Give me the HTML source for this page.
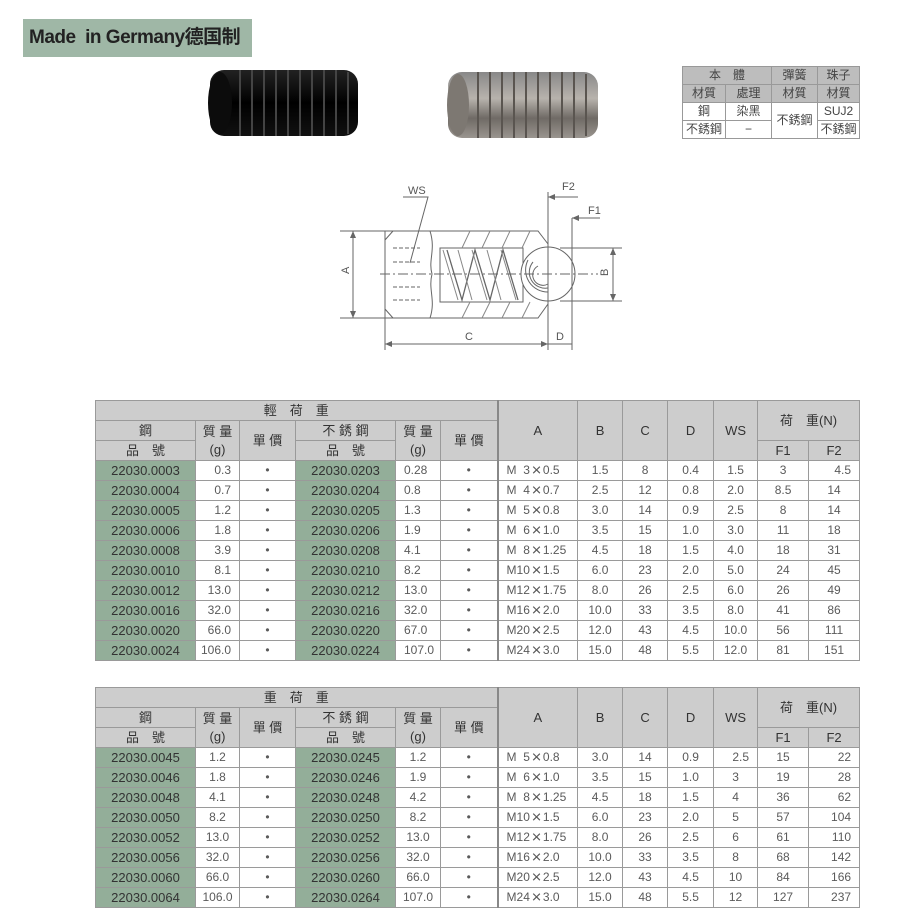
<!DOCTYPE html>
<html><head><meta charset="utf-8"><style>
body{margin:0;width:900px;height:916px;background:#fff;position:relative;overflow:hidden;font-family:"Liberation Sans Narrow","Liberation Sans","Noto Sans CJK TC",sans-serif;}
.title{position:absolute;left:23px;top:19px;width:229px;height:38px;background:#9fb7a6;font:bold 19px "Liberation Sans","Noto Sans CJK SC",sans-serif;color:#222;line-height:38px;padding-left:6px;box-sizing:border-box;letter-spacing:-0.5px}
table{border-collapse:collapse;position:absolute;table-layout:fixed;font-size:12px;color:#5a5a5a}
td{border:1px solid #9a9a9a;padding:0;text-align:center;height:19px;line-height:19px;white-space:nowrap;overflow:hidden}
.h td{background:#cdcdcd;color:#333;font-size:13px}
td.g{background:#93ae99;color:#333;font-size:13px}
td.l{text-align:left;padding-left:8px}
td.r{text-align:right;padding-right:8px}
td.sep{border-left:2px solid #888}
.x{display:inline-block;line-height:10px;transform:scale(1.4);margin:0 3px}
.mt{font-size:12px;color:#444}
.mt td{height:17px;line-height:17px;border:1px solid #999}
</style></head><body>
<div class="title">Made&nbsp; in Germany德国制</div>

<svg style="position:absolute;left:0;top:0" width="900" height="380">
 <defs>
  <linearGradient id="bk" x1="0" y1="0" x2="0" y2="1"><stop offset="0" stop-color="#222"/><stop offset="0.5" stop-color="#000"/><stop offset="1" stop-color="#111"/></linearGradient>
  <linearGradient id="sv" x1="0" y1="0" x2="0" y2="1"><stop offset="0" stop-color="#888"/><stop offset="0.4" stop-color="#b8b3ad"/><stop offset="0.7" stop-color="#6f6a65"/><stop offset="1" stop-color="#9a958f"/></linearGradient>
 </defs>
 <rect x="210" y="70" width="148" height="66" rx="14" fill="url(#bk)"/>
 <ellipse cx="220" cy="103" rx="12" ry="31" fill="#0c0c0c"/>
 <g stroke="#444" stroke-width="2">
  <line x1="240" y1="70" x2="240" y2="136"/><line x1="252" y1="70" x2="252" y2="136"/><line x1="264" y1="70" x2="264" y2="136"/><line x1="276" y1="70" x2="276" y2="136"/><line x1="288" y1="70" x2="288" y2="136"/><line x1="300" y1="70" x2="300" y2="136"/><line x1="312" y1="70" x2="312" y2="136"/><line x1="324" y1="70" x2="324" y2="136"/><line x1="336" y1="70" x2="336" y2="136"/><line x1="348" y1="72" x2="348" y2="134"/>
 </g>
 <rect x="448" y="72" width="150" height="66" rx="14" fill="url(#sv)"/>
 <ellipse cx="458" cy="105" rx="11" ry="31" fill="#7d7872"/>
 <g stroke="#5a5550" stroke-width="2">
  <line x1="478" y1="72" x2="478" y2="138"/><line x1="490" y1="72" x2="490" y2="138"/><line x1="502" y1="72" x2="502" y2="138"/><line x1="514" y1="72" x2="514" y2="138"/><line x1="526" y1="72" x2="526" y2="138"/><line x1="538" y1="72" x2="538" y2="138"/><line x1="550" y1="72" x2="550" y2="138"/><line x1="562" y1="72" x2="562" y2="138"/><line x1="574" y1="72" x2="574" y2="138"/><line x1="586" y1="74" x2="586" y2="136"/>
 </g>

 <g stroke="#666" fill="none" stroke-width="1">
  <path d="M393 231 L538 231 L548 244 M393 318 L538 318 L548 304 M393 231 L385 240 L385 309 L393 318"/>
  <line x1="385" y1="231" x2="385" y2="350"/>
  <rect x="440" y="248" width="83" height="54"/>
  <path d="M447 250 L462 300 L475 250 L490 300 L503 250 L518 300" stroke-width="1.3"/>
  <path d="M443 250 L458 300 M458 250 L472 300 M472 250 L487 300 M487 250 L501 300 M501 250 L516 300" stroke="#888"/>
  <circle cx="548" cy="274" r="27" fill="#fff"/>
  <path d="M538 266 a10 10 0 0 0 10 18 M533 262 a16 16 0 0 0 15 26 M528 260 a22 22 0 0 0 20 32"/>
  <line x1="380" y1="274" x2="598" y2="274" stroke-dasharray="10 3 2 3"/>
  <line x1="548" y1="192" x2="548" y2="350"/>
  <line x1="572" y1="218" x2="572" y2="350"/>
  <line x1="340" y1="231" x2="393" y2="231"/><line x1="340" y1="318" x2="393" y2="318"/>
  <line x1="353" y1="231" x2="353" y2="318"/>
  <line x1="560" y1="248" x2="622" y2="248"/><line x1="560" y1="301" x2="622" y2="301"/>
  <line x1="613" y1="248" x2="613" y2="301"/>
  <line x1="385" y1="344" x2="548" y2="344"/><line x1="548" y1="344" x2="572" y2="344"/>
  <line x1="548" y1="197" x2="578" y2="197"/><line x1="572" y1="218" x2="600" y2="218"/>
  <path d="M403 197 L428 197 L410 263"/>
  <path d="M393 248 L420 248 M393 262 L420 262 M393 287 L420 287 M393 300 L420 300" stroke-dasharray="4 2"/>
  <path d="M430 231 C436 250 428 260 432 274 C428 290 436 300 430 318" />
  <path d="M470 231 L462 248 M490 231 L482 248 M510 231 L502 248 M530 231 L522 248 M470 302 L462 318 M490 302 L482 318 M510 302 L502 318 M530 302 L522 318" stroke="#888"/>
 </g>
 <g fill="#666">
  <path d="M353 231 l-3 7 h6z M353 318 l-3 -7 h6z M613 248 l-3 7 h6z M613 301 l-3 -7 h6z M385 344 l7 -3 v6z M548 344 l-7 -3 v6z M548 197 l7 -3 v6z M572 218 l7 -3 v6z"/>
 </g>
 <g font-family="Liberation Sans Narrow,Liberation Sans,sans-serif" font-size="11" fill="#555">
  <text x="408" y="194">WS</text>
  <text x="562" y="190">F2</text>
  <text x="588" y="214">F1</text>
  <text x="465" y="340">C</text>
  <text x="556" y="340">D</text>
  <text x="345" y="278" transform="rotate(-90 345 274)">A</text>
  <text x="602" y="278" transform="rotate(-90 604 274)">B</text>
 </g>
</svg>

<table class="mt" style="left:682px;top:66px;width:177px">
<colgroup><col style="width:43px"><col style="width:46px"><col style="width:46px"><col style="width:42px"></colgroup>
<tr style="background:#bdbdbd"><td colspan="2">本　體</td><td>彈簧</td><td>珠子</td></tr>
<tr style="background:#bdbdbd"><td>材質</td><td>處理</td><td>材質</td><td>材質</td></tr>
<tr><td>鋼</td><td>染黑</td><td rowspan="2">不銹鋼</td><td>SUJ2</td></tr>
<tr><td>不銹鋼</td><td>−</td><td>不銹鋼</td></tr>
</table>

<table style="left:95px;top:400px;width:764px">
<colgroup><col style="width:100px"><col style="width:44px"><col style="width:56px"><col style="width:100px"><col style="width:45px"><col style="width:57px"><col style="width:80px"><col style="width:45px"><col style="width:45px"><col style="width:46px"><col style="width:44px"><col style="width:51px"><col style="width:51px"></colgroup>
<tr class="h"><td colspan="6">輕　荷　重</td><td rowspan="3" class="sep">A</td><td rowspan="3">B</td><td rowspan="3">C</td><td rowspan="3">D</td><td rowspan="3">WS</td><td colspan="2" rowspan="2">荷　重(N)</td></tr>
<tr class="h"><td>鋼</td><td rowspan="2" style="line-height:18px">質 量<br>(g)</td><td rowspan="2">單 價</td><td>不 銹 鋼</td><td rowspan="2" style="line-height:18px">質 量<br>(g)</td><td rowspan="2">單 價</td></tr>
<tr class="h"><td>品　號</td><td>品　號</td><td>F1</td><td>F2</td></tr>
<tr><td class="g">22030.0003</td><td class="r">0.3</td><td>•</td><td class="g">22030.0203</td><td class="l">0.28</td><td>•</td><td class="l sep">M&nbsp; 3<span class="x">×</span>0.5</td><td>1.5</td><td>8</td><td>0.4</td><td>1.5</td><td>3</td><td class="r">4.5</td></tr>
<tr><td class="g">22030.0004</td><td class="r">0.7</td><td>•</td><td class="g">22030.0204</td><td class="l">0.8</td><td>•</td><td class="l sep">M&nbsp; 4<span class="x">×</span>0.7</td><td>2.5</td><td>12</td><td>0.8</td><td>2.0</td><td>8.5</td><td>14</td></tr>
<tr><td class="g">22030.0005</td><td class="r">1.2</td><td>•</td><td class="g">22030.0205</td><td class="l">1.3</td><td>•</td><td class="l sep">M&nbsp; 5<span class="x">×</span>0.8</td><td>3.0</td><td>14</td><td>0.9</td><td>2.5</td><td>8</td><td>14</td></tr>
<tr><td class="g">22030.0006</td><td class="r">1.8</td><td>•</td><td class="g">22030.0206</td><td class="l">1.9</td><td>•</td><td class="l sep">M&nbsp; 6<span class="x">×</span>1.0</td><td>3.5</td><td>15</td><td>1.0</td><td>3.0</td><td>11</td><td>18</td></tr>
<tr><td class="g">22030.0008</td><td class="r">3.9</td><td>•</td><td class="g">22030.0208</td><td class="l">4.1</td><td>•</td><td class="l sep">M&nbsp; 8<span class="x">×</span>1.25</td><td>4.5</td><td>18</td><td>1.5</td><td>4.0</td><td>18</td><td>31</td></tr>
<tr><td class="g">22030.0010</td><td class="r">8.1</td><td>•</td><td class="g">22030.0210</td><td class="l">8.2</td><td>•</td><td class="l sep">M10<span class="x">×</span>1.5</td><td>6.0</td><td>23</td><td>2.0</td><td>5.0</td><td>24</td><td>45</td></tr>
<tr><td class="g">22030.0012</td><td class="r">13.0</td><td>•</td><td class="g">22030.0212</td><td class="l">13.0</td><td>•</td><td class="l sep">M12<span class="x">×</span>1.75</td><td>8.0</td><td>26</td><td>2.5</td><td>6.0</td><td>26</td><td>49</td></tr>
<tr><td class="g">22030.0016</td><td class="r">32.0</td><td>•</td><td class="g">22030.0216</td><td class="l">32.0</td><td>•</td><td class="l sep">M16<span class="x">×</span>2.0</td><td>10.0</td><td>33</td><td>3.5</td><td>8.0</td><td>41</td><td>86</td></tr>
<tr><td class="g">22030.0020</td><td class="r">66.0</td><td>•</td><td class="g">22030.0220</td><td class="l">67.0</td><td>•</td><td class="l sep">M20<span class="x">×</span>2.5</td><td>12.0</td><td>43</td><td>4.5</td><td>10.0</td><td>56</td><td>111</td></tr>
<tr><td class="g">22030.0024</td><td class="r">106.0</td><td>•</td><td class="g">22030.0224</td><td class="l">107.0</td><td>•</td><td class="l sep">M24<span class="x">×</span>3.0</td><td>15.0</td><td>48</td><td>5.5</td><td>12.0</td><td>81</td><td>151</td></tr>
</table>

<table style="left:95px;top:687px;width:764px">
<colgroup><col style="width:100px"><col style="width:44px"><col style="width:56px"><col style="width:100px"><col style="width:45px"><col style="width:57px"><col style="width:80px"><col style="width:45px"><col style="width:45px"><col style="width:46px"><col style="width:44px"><col style="width:51px"><col style="width:51px"></colgroup>
<tr class="h"><td colspan="6">重　荷　重</td><td rowspan="3" class="sep">A</td><td rowspan="3">B</td><td rowspan="3">C</td><td rowspan="3">D</td><td rowspan="3">WS</td><td colspan="2" rowspan="2">荷　重(N)</td></tr>
<tr class="h"><td>鋼</td><td rowspan="2" style="line-height:18px">質 量<br>(g)</td><td rowspan="2">單 價</td><td>不 銹 鋼</td><td rowspan="2" style="line-height:18px">質 量<br>(g)</td><td rowspan="2">單 價</td></tr>
<tr class="h"><td>品　號</td><td>品　號</td><td>F1</td><td>F2</td></tr>
<tr><td class="g">22030.0045</td><td>1.2</td><td>•</td><td class="g">22030.0245</td><td>1.2</td><td>•</td><td class="l sep">M&nbsp; 5<span class="x">×</span>0.8</td><td>3.0</td><td>14</td><td>0.9</td><td class="r">2.5</td><td>15</td><td class="r">22</td></tr>
<tr><td class="g">22030.0046</td><td>1.8</td><td>•</td><td class="g">22030.0246</td><td>1.9</td><td>•</td><td class="l sep">M&nbsp; 6<span class="x">×</span>1.0</td><td>3.5</td><td>15</td><td>1.0</td><td>3</td><td>19</td><td class="r">28</td></tr>
<tr><td class="g">22030.0048</td><td>4.1</td><td>•</td><td class="g">22030.0248</td><td>4.2</td><td>•</td><td class="l sep">M&nbsp; 8<span class="x">×</span>1.25</td><td>4.5</td><td>18</td><td>1.5</td><td>4</td><td>36</td><td class="r">62</td></tr>
<tr><td class="g">22030.0050</td><td>8.2</td><td>•</td><td class="g">22030.0250</td><td>8.2</td><td>•</td><td class="l sep">M10<span class="x">×</span>1.5</td><td>6.0</td><td>23</td><td>2.0</td><td>5</td><td>57</td><td class="r">104</td></tr>
<tr><td class="g">22030.0052</td><td>13.0</td><td>•</td><td class="g">22030.0252</td><td>13.0</td><td>•</td><td class="l sep">M12<span class="x">×</span>1.75</td><td>8.0</td><td>26</td><td>2.5</td><td>6</td><td>61</td><td class="r">110</td></tr>
<tr><td class="g">22030.0056</td><td>32.0</td><td>•</td><td class="g">22030.0256</td><td>32.0</td><td>•</td><td class="l sep">M16<span class="x">×</span>2.0</td><td>10.0</td><td>33</td><td>3.5</td><td>8</td><td>68</td><td class="r">142</td></tr>
<tr><td class="g">22030.0060</td><td>66.0</td><td>•</td><td class="g">22030.0260</td><td>66.0</td><td>•</td><td class="l sep">M20<span class="x">×</span>2.5</td><td>12.0</td><td>43</td><td>4.5</td><td>10</td><td>84</td><td class="r">166</td></tr>
<tr><td class="g">22030.0064</td><td>106.0</td><td>•</td><td class="g">22030.0264</td><td>107.0</td><td>•</td><td class="l sep">M24<span class="x">×</span>3.0</td><td>15.0</td><td>48</td><td>5.5</td><td>12</td><td>127</td><td class="r">237</td></tr>
</table>
</body></html>
